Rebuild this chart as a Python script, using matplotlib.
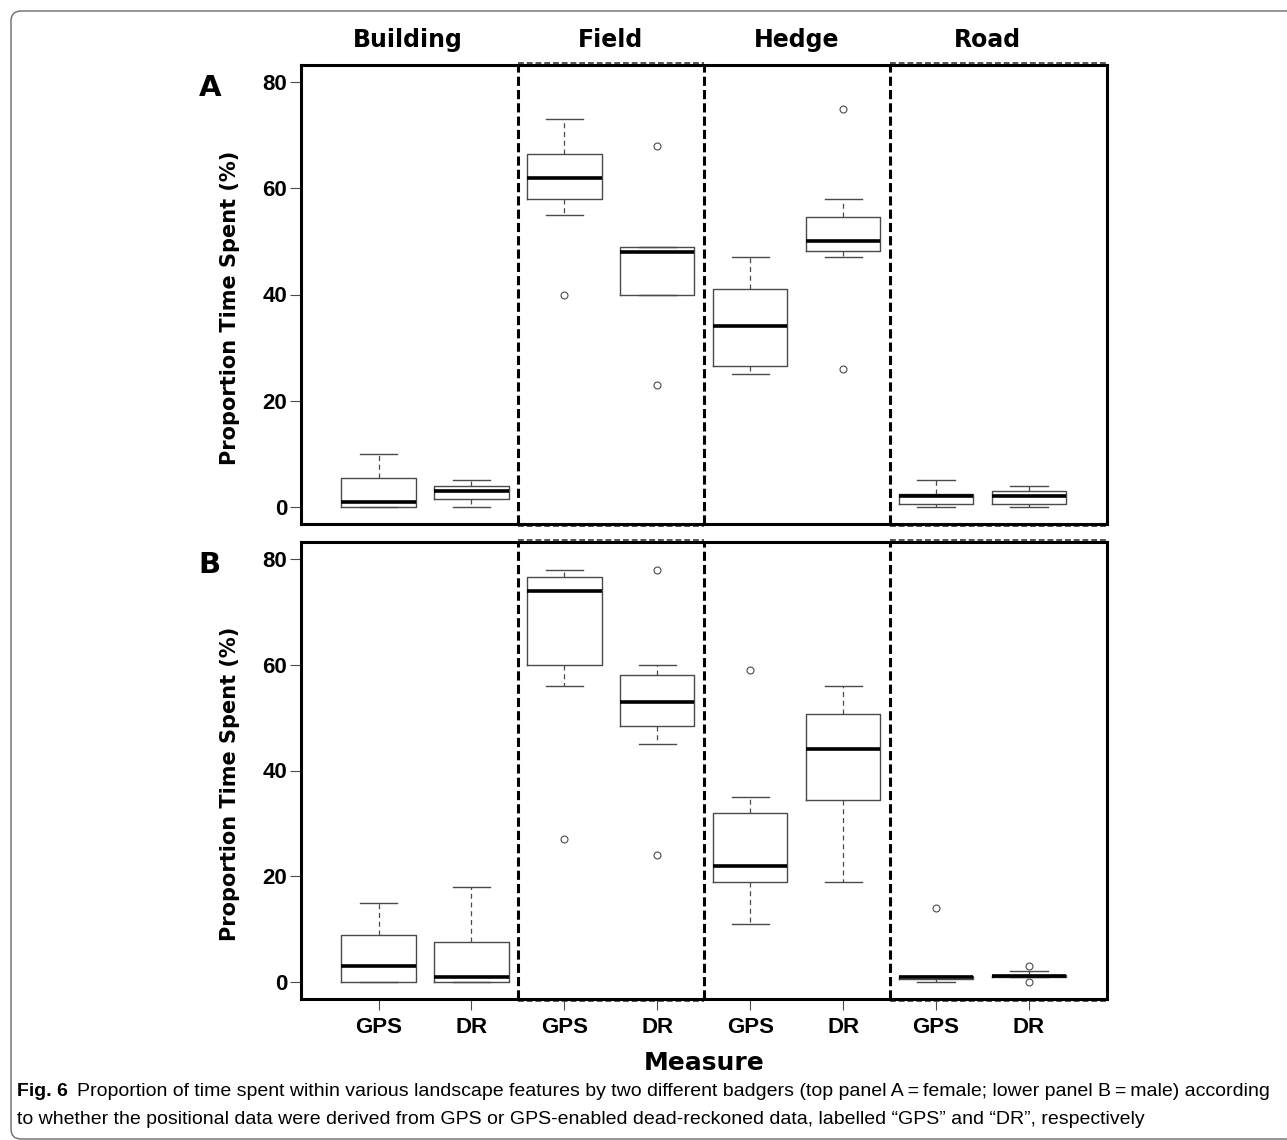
import matplotlib
matplotlib.use("Agg")
import matplotlib.pyplot as plt
from matplotlib.patches import PathPatch
from matplotlib.path import Path
from matplotlib.transforms import IdentityTransform

# позиції: Building, Field, Hedge, Road x (GPS, DR)
features = ["Building", "Field", "Hedge", "Road"]
measures = ["GPS", "DR", "GPS", "DR", "GPS", "DR", "GPS", "DR"]

# панель A - самка
whislo_a = [0, 0, 55, 40, 25, 47, 0, 0]
q1_a = [0, 1.5, 58, 40, 26.5, 48.2, 0.5, 0.5]
med_a = [1, 3, 62, 48, 34, 50, 2, 2]
q3_a = [5.5, 4, 66.5, 49, 41, 54.5, 2.5, 3]
whishi_a = [10, 5, 73, 49, 47, 58, 5, 4]
fliers_a = [[], [], [40], [68, 23], [], [75, 26], [], []]

# панель B - самець
whislo_b = [0, 0, 56, 45, 11, 19, 0, 0.9]
q1_b = [0, 0, 60, 48.5, 19, 34.5, 0.6, 0.9]
med_b = [3, 1, 74, 53, 22, 44, 0.9, 1.1]
q3_b = [8.9, 7.5, 76.5, 58, 32, 50.6, 1.1, 1.4]
whishi_b = [15, 18, 78, 60, 35, 56, 1.1, 2]
fliers_b = [[], [], [27], [78, 24], [59], [], [14], [3, 0]]

yticks = [0, 20, 40, 60, 80]

W, H = 1287, 1140
fig = plt.figure(figsize=(W / 100, H / 100), dpi=100)

# рамка навколо рисунка (зліва і зверху, кути заокруглені)
verts = [(W + 20, H - 11), (21, H - 11), (11, H - 11), (11, H - 21),
         (11, 11), (11, 1), (21, 1), (W + 20, 1)]
codes = [Path.MOVETO, Path.LINETO, Path.CURVE3, Path.CURVE3,
         Path.LINETO, Path.CURVE3, Path.CURVE3, Path.LINETO]
frame = PathPatch(Path(verts, codes), transform=IdentityTransform(), fill=False,
                  ec="#6a6a6a", lw=1.0)
fig.patches.append(frame)

axA = fig.add_axes([301 / W, 1 - 524 / H, 806 / W, 459 / H])
axB = fig.add_axes([301 / W, 1 - 999 / H, 806 / W, 457 / H])

grey = "#4a4a4a"
tick_font = dict(family="Liberation Sans", weight="bold", size=16)


def make_stats(lo, a, m, b, hi, fl):
    return [dict(whislo=lo[i], q1=a[i], med=m[i], q3=b[i], whishi=hi[i], fliers=fl[i])
            for i in range(len(m))]


def draw_panel(ax, stats, letter):
    ax.bxp(stats, positions=range(1, 9), widths=0.8, capwidths=0.4, manage_ticks=False,
           boxprops=dict(color=grey, lw=1.0),
           medianprops=dict(color="black", lw=2.6, solid_capstyle="butt"),
           whiskerprops=dict(color=grey, lw=0.9, linestyle=(0, (4, 3))),
           capprops=dict(color=grey, lw=1.0),
           flierprops=dict(marker="o", markersize=5, markerfacecolor="white",
                           markeredgecolor=grey, markeredgewidth=0.8))
    ax.set_xlim(0.165, 8.84)
    ax.set_ylim(-3.2, 83.2)
    ax.set_yticks(yticks)
    ax.set_yticklabels([str(v) for v in yticks], fontdict=tick_font)
    ax.set_xticks(range(1, 9))
    ax.tick_params(axis="y", length=8, width=0.8, color=grey, pad=2)
    ax.tick_params(axis="x", length=8, width=0.8, color=grey, pad=5)
    for s in ax.spines.values():
        s.set_linewidth(2.2)
        s.set_color("black")
    # роздільники
    for xv in [2.5, 4.5, 6.5]:
        ax.axvline(xv, color="black", lw=2.2, linestyle=(0, (3, 1.35)))
    # пунктирні рамки Field і Road
    for x0, x1 in [(2.5, 4.5), (6.5, 8.84)]:
        for yv in [83.5, -3.5]:
            ax.plot([x0, x1], [yv, yv], color="#555555", lw=1.4, linestyle=(0, (3, 1.5)),
                    clip_on=False)
    ax.set_ylabel("Proportion Time Spent (%)", fontsize=15, fontweight="bold",
                  family="DejaVu Sans")
    ax.yaxis.set_label_coords(-0.076, 0.47)
    ax.text(-0.113, 0.95, letter, transform=ax.transAxes, fontsize=21,
            fontweight="bold", family="DejaVu Sans", ha="center", va="center")


draw_panel(axA, make_stats(whislo_a, q1_a, med_a, q3_a, whishi_a, fliers_a), "A")
draw_panel(axB, make_stats(whislo_b, q1_b, med_b, q3_b, whishi_b, fliers_b), "B")

axA.set_xticklabels([])
axA.tick_params(axis="x", length=0)
axB.set_xticklabels(measures, fontdict=tick_font)
axB.set_xlabel("Measure", fontsize=18, fontweight="bold", family="DejaVu Sans", labelpad=9)

title_x = [1.32, 3.5, 5.5, 7.55]
for xv, name in zip(title_x, features):
    axA.text(xv, 1.054, name, transform=axA.get_xaxis_transform(), fontsize=17,
             fontweight="bold", family="DejaVu Sans", ha="center", va="center")

# підпис
cap_fam = ["Liberation Sans Narrow", "Liberation Sans"]
line1 = ("Proportion of time spent within various landscape features by two different badgers "
         "(top panel A\u2009=\u2009female; lower panel B\u2009=\u2009male) according")
line2 = ("to whether the positional data were derived from GPS or GPS-enabled dead-reckoned data, "
         "labelled \u201cGPS\u201d and \u201cDR\u201d, respectively")
fig_lbl = fig.text(17 / W, 1 - 1092 / H, "Fig. 6", fontsize=14, fontweight="bold",
                   family=cap_fam, va="center")
fig.canvas.draw()
r = fig.canvas.get_renderer()
bb = fig_lbl.get_window_extent(r)
x_rest = bb.x1 + 9
t1 = fig.text(x_rest / W, 1 - 1092 / H, line1, fontsize=14, family=cap_fam, va="center")
fig.canvas.draw()
w1 = t1.get_window_extent(r).width
fs = 14 * (1270 - x_rest) / w1
t1.set_fontsize(fs)
fig.text(17 / W, 1 - 1120 / H, line2, fontsize=fs, family=cap_fam, va="center")

fig.savefig("out.png", dpi=100)
